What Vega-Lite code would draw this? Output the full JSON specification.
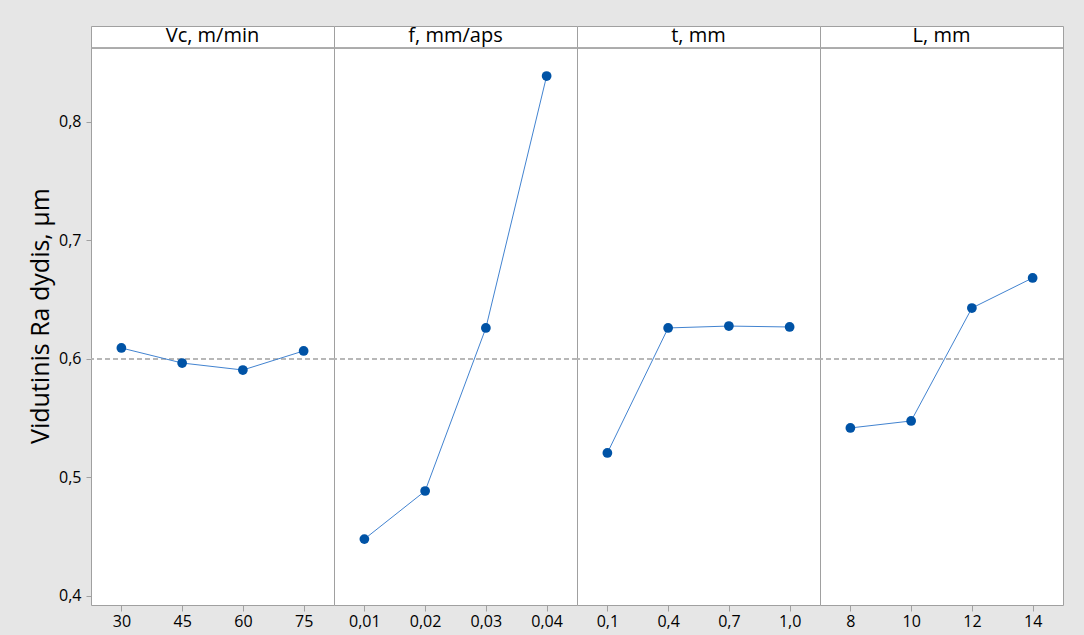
{
  "$schema": "https://vega.github.io/schema/vega-lite/v6.json",
  "background": "#e6e6e6",
  "padding": {"left": 28, "top": 25, "right": 20, "bottom": 5},
  "bounds": "flush",
  "data": {"values": [
    {"factor": "Vc, m/min", "level": "30", "ord": 0, "val": 0.6093},
    {"factor": "Vc, m/min", "level": "45", "ord": 1, "val": 0.5966},
    {"factor": "Vc, m/min", "level": "60", "ord": 2, "val": 0.5907},
    {"factor": "Vc, m/min", "level": "75", "ord": 3, "val": 0.6068},
    {"factor": "f, mm/aps", "level": "0,01", "ord": 0, "val": 0.448},
    {"factor": "f, mm/aps", "level": "0,02", "ord": 1, "val": 0.4886},
    {"factor": "f, mm/aps", "level": "0,03", "ord": 2, "val": 0.6262},
    {"factor": "f, mm/aps", "level": "0,04", "ord": 3, "val": 0.8388},
    {"factor": "t, mm", "level": "0,1", "ord": 0, "val": 0.5207},
    {"factor": "t, mm", "level": "0,4", "ord": 1, "val": 0.6262},
    {"factor": "t, mm", "level": "0,7", "ord": 2, "val": 0.6278},
    {"factor": "t, mm", "level": "1,0", "ord": 3, "val": 0.627},
    {"factor": "L, mm", "level": "8", "ord": 0, "val": 0.5418},
    {"factor": "L, mm", "level": "10", "ord": 1, "val": 0.5477},
    {"factor": "L, mm", "level": "12", "ord": 2, "val": 0.643},
    {"factor": "L, mm", "level": "14", "ord": 3, "val": 0.6684}
  ]},
  "facet": {"column": {"field": "factor", "type": "nominal", "sort": ["Vc, m/min", "f, mm/aps", "t, mm", "L, mm"], "header": {"labels": false, "title": null}}},
  "spacing": 0,
  "spec": {
    "width": 243,
    "height": 579,
    "layer": [
      {
        "mark": {"type": "rule", "color": "#b4b4b4", "strokeDash": [5, 3], "strokeWidth": 1},
        "encoding": {"y": {"datum": 0.6, "type": "quantitative"}}
      },
      {
        "mark": {"type": "rule", "color": "#a8a8a8", "strokeWidth": 1},
        "encoding": {"y": {"datum": 0.8624, "type": "quantitative"}}
      },
      {
        "mark": {"type": "line", "color": "#4283d0", "strokeWidth": 1},
        "encoding": {
          "x": {"field": "level", "type": "ordinal", "sort": {"field": "ord"}, "scale": {"type": "point", "padding": 0.5}, "axis": {"title": null, "labelAngle": 0}},
          "y": {"field": "val", "type": "quantitative", "scale": {"domain": [0.3924, 0.881], "nice": false, "zero": false},
                "axis": {"title": "Vidutinis Ra dydis, µm", "values": [0.4, 0.5, 0.6, 0.7, 0.8], "labelExpr": "replace(format(datum.value, '.1f'), '.', ',')"}}
        }
      },
      {
        "mark": {"type": "point", "filled": true, "color": "#0053a6", "size": 95, "opacity": 1},
        "encoding": {
          "x": {"field": "level", "type": "ordinal", "sort": {"field": "ord"}},
          "y": {"field": "val", "type": "quantitative"}
        }
      },
      {
        "transform": [{"filter": "datum.ord == 0"}],
        "mark": {"type": "text", "fontSize": 20, "font": "Open Sans", "color": "black", "baseline": "alphabetic", "align": "center"},
        "encoding": {
          "text": {"field": "factor"},
          "y": {"datum": 0.8675, "type": "quantitative"}
        }
      }
    ]
  },
  "resolve": {"scale": {"x": "independent"}},
  "config": {
    "view": {"stroke": "#a0a0a0", "fill": "white"},
    "axis": {
      "labelFont": "Open Sans", "labelFontSize": 16, "labelColor": "black",
      "titleFont": "Open Sans", "titleFontSize": 25, "titleFontWeight": "normal", "titleColor": "black",
      "tickColor": "#a0a0a0", "tickSize": 6, "domain": false, "grid": false, "labelPadding": 2
    },
    "axisY": {"titlePadding": 5, "labelPadding": 5, "tickSize": 5}
  }
}
